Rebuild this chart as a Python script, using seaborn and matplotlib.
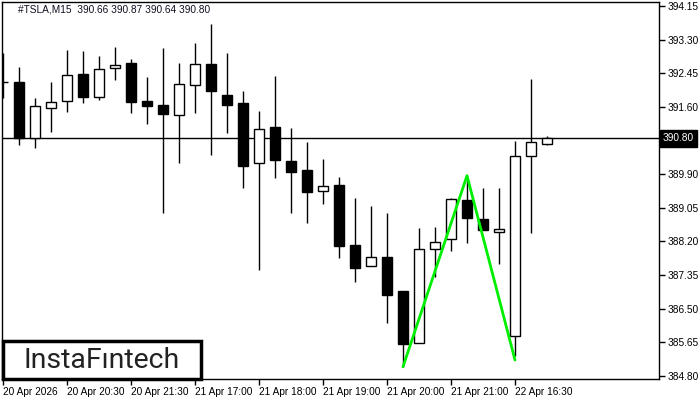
import matplotlib
matplotlib.use("Agg")
import matplotlib.pyplot as plt
import matplotlib.transforms as mtransforms
from matplotlib.patches import Rectangle
import numpy as np
import pandas as pd
import seaborn as sns

# M15 candles
opens = [392.23, 392.23, 390.81, 391.57, 391.75, 392.43, 391.85, 392.58, 392.71, 391.75,
         391.65, 391.40, 392.15, 392.68, 391.90, 391.70, 390.18, 391.09, 390.23, 390.01,
         389.48, 389.63, 388.11, 387.58, 387.81, 386.95, 385.63, 388.01, 388.26, 389.25,
         388.77, 388.44, 385.81, 390.36, 390.66]
highs = [392.96, 392.61, 391.83, 392.23, 393.04, 393.01, 392.89, 393.11, 392.81, 392.36,
         393.09, 392.71, 393.22, 393.70, 392.96, 392.00, 391.50, 392.38, 391.07, 390.71,
         390.28, 389.83, 389.30, 389.10, 388.92, 386.95, 388.54, 388.57, 389.30, 389.86,
         389.55, 389.55, 390.74, 392.31, 390.87]
lows = [391.83, 390.64, 390.56, 390.97, 391.47, 391.70, 391.77, 392.28, 391.45, 391.17,
        388.92, 390.18, 391.45, 390.39, 390.94, 389.55, 387.48, 389.80, 388.92, 388.67,
        389.15, 387.78, 387.18, 387.58, 386.14, 385.03, 385.63, 387.30, 387.96, 388.16,
        388.49, 387.63, 385.31, 388.41, 390.64]
closes = [392.23, 390.81, 391.62, 391.72, 392.41, 391.85, 392.56, 392.66, 391.72, 391.62,
          391.42, 392.18, 392.68, 392.00, 391.65, 390.11, 391.04, 390.26, 389.96, 389.45,
          389.60, 388.09, 387.53, 387.81, 386.85, 385.61, 388.01, 388.19, 389.27, 388.79,
          388.49, 388.52, 390.36, 390.71, 390.80]

# double bottom pattern (candle index, price)
pattern_idx = [25, 29, 32]
pattern_price = [385.03, 389.86, 385.20]

price_ticks = [394.15, 393.30, 392.45, 391.60, 389.90, 389.05, 388.20, 387.35, 386.50, 385.65, 384.80]
time_idx = [0, 4, 8, 12, 16, 20, 24, 28, 32]
time_labels = ["20 Apr 2026", "20 Apr 20:30", "20 Apr 21:30", "21 Apr 17:00", "21 Apr 18:00",
               "21 Apr 19:00", "21 Apr 20:00", "21 Apr 21:00", "22 Apr 16:30"]
last_price = 390.80
header = "#TSLA,M15  390.66 390.87 390.64 390.80"

df = pd.DataFrame({"open": opens, "high": highs, "low": lows, "close": closes})
df["i"] = np.arange(len(df))
df["bull"] = df["close"] >= df["open"]

sns.set_style("white")
plt.rcParams["font.family"] = ["Liberation Sans", "DejaVu Sans"]

fig = plt.figure(figsize=(7, 4), dpi=100)
ax = fig.add_axes([2 / 700, 21 / 400, 657 / 700, 377 / 400])

ax.vlines(df["i"], df["low"], df["high"], color="black", lw=1, zorder=2)
body_lo = df[["open", "close"]].min(axis=1)
body_h = (df["open"] - df["close"]).abs()
ax.bar(df["i"], body_h, bottom=body_lo, width=0.62,
       color=np.where(df["bull"], "white", "black"), edgecolor="black", lw=1, zorder=3)

ax.axhline(last_price, color="black", lw=1, zorder=1)
sns.lineplot(x=pattern_idx, y=pattern_price, color="#00ee00", lw=2, ax=ax, zorder=4)

ax.set_xlim(-0.0625, 41.0)
ax.set_ylim(384.72, 394.25)

ax.yaxis.tick_right()
ax.set_yticks(price_ticks)
ax.set_yticklabels([f"{p:.2f}" for p in price_ticks])
ax.set_xticks(time_idx)
ax.set_xticklabels(time_labels, ha="left")
ax.tick_params(axis="both", direction="out", length=4, width=1, labelsize=7.3, pad=2,
               colors="black", right=True, bottom=True, left=False)
for s in ax.spines.values():
    s.set_color("black")
    s.set_linewidth(1)
ax.set_xlabel("")
ax.set_ylabel("")

trans = mtransforms.blended_transform_factory(ax.transAxes, ax.transData)
ax.text(1.006, last_price, f"{last_price:.2f}", transform=trans, ha="left", va="center",
        fontsize=7.3, color="white",
        bbox=dict(boxstyle="square,pad=0.3", fc="black", ec="black"))

ax.text(0.024, 0.979, header, transform=ax.transAxes, ha="left", va="center",
        fontsize=7.3, color="#101020")

fig.patches.append(Rectangle((2.5 / 700, 21.5 / 400), 198 / 700, 38 / 400, transform=fig.transFigure,
                             fc="white", ec="black", lw=2.5, zorder=5))
fig.text(102 / 700, 40 / 400, "InstaFıntech", ha="center", va="center", fontsize=20.5,
         fontweight="normal", color="#222222", family=["Roboto", "DejaVu Sans"], zorder=6)

fig.savefig("out.png", dpi=100)
